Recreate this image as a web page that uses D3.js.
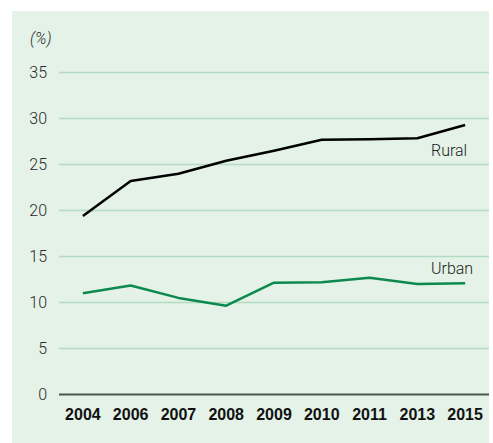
<!DOCTYPE html>
<html>
<head>
<meta charset="utf-8">
<script src="https://cdn.jsdelivr.net/npm/d3@7/dist/d3.min.js"></script>
<style>
  html, body { margin: 0; padding: 0; background: #ffffff; }
  svg { display: block; }
  .tick-y { font-family: Roboto, "Liberation Sans", sans-serif; font-weight: 300; font-size: 16px; fill: #2a2a2a; }
  .tick-x { font-family: "Liberation Sans", Arial, sans-serif; font-weight: bold; font-size: 16px; fill: #111; }
  .series-label { font-family: Roboto, "Liberation Sans", sans-serif; font-weight: 300; font-size: 16px; fill: #222; }
</style>
</head>
<body>
<script>
// Survey years along the x axis
const years = ["2004", "2006", "2007", "2008", "2009", "2010", "2011", "2013", "2015"];
// Share (%) by area
const rural = [19.4, 23.2, 24.0, 25.4, 26.5, 27.7, 27.75, 27.85, 29.3];
const urban = [11.0, 11.85, 10.5, 9.65, 12.15, 12.2, 12.7, 12.0, 12.1];
// Y axis ticks
const yTicks = [0, 5, 10, 15, 20, 25, 30, 35];
const unitLabel = "(%)";

const W = 493, H = 443;
const svg = d3.select("body").append("svg").attr("width", W).attr("height", H);

// Panel background
svg.append("rect")
  .attr("x", 12).attr("y", 11)
  .attr("width", 477).attr("height", H - 11)
  .attr("fill", "#e4f2e7");

const x = d3.scalePoint().domain(years).range([59, 489]).padding(0.5);
const y = d3.scaleLinear().domain([0, 35]).range([394.5, 72.5]);

// Horizontal gridlines
svg.append("g").selectAll("line")
  .data(yTicks.filter(d => d > 0))
  .join("line")
  .attr("x1", 59).attr("x2", 489)
  .attr("y1", d => y(d)).attr("y2", d => y(d))
  .attr("stroke", "#b3dcc2").attr("stroke-width", 1.5);

// Y tick labels
svg.append("g").selectAll("text")
  .data(yTicks)
  .join("text")
  .attr("class", "tick-y")
  .attr("x", 47).attr("y", d => y(d))
  .attr("dy", "0.36em")
  .attr("text-anchor", "end")
  .text(d => d);

// Unit label
svg.append("text")
  .attr("class", "tick-y")
  .attr("x", 30).attr("y", 44)
  .attr("font-style", "italic")
  .text(unitLabel);

// Baseline axis
svg.append("line")
  .attr("x1", 59).attr("x2", 489)
  .attr("y1", y(0)).attr("y2", y(0))
  .attr("stroke", "#4b5750").attr("stroke-width", 2);

// X tick labels
svg.append("g").selectAll("text")
  .data(years)
  .join("text")
  .attr("class", "tick-x")
  .attr("x", d => x(d)).attr("y", 420)
  .attr("text-anchor", "middle")
  .text(d => d);

const line = d3.line()
  .x((d, i) => x(years[i]))
  .y(d => y(d));

svg.append("path")
  .datum(rural)
  .attr("d", line)
  .attr("fill", "none")
  .attr("stroke", "#000")
  .attr("stroke-width", 2.5)
  .attr("stroke-linejoin", "round");

svg.append("path")
  .datum(urban)
  .attr("d", line)
  .attr("fill", "none")
  .attr("stroke", "#0c8a4e")
  .attr("stroke-width", 2.5)
  .attr("stroke-linejoin", "round");

// Series labels
svg.append("text")
  .attr("class", "series-label")
  .attr("x", 431).attr("y", 156)
  .text("Rural");
svg.append("text")
  .attr("class", "series-label")
  .attr("x", 431).attr("y", 274)
  .text("Urban");
</script>
</body>
</html>
